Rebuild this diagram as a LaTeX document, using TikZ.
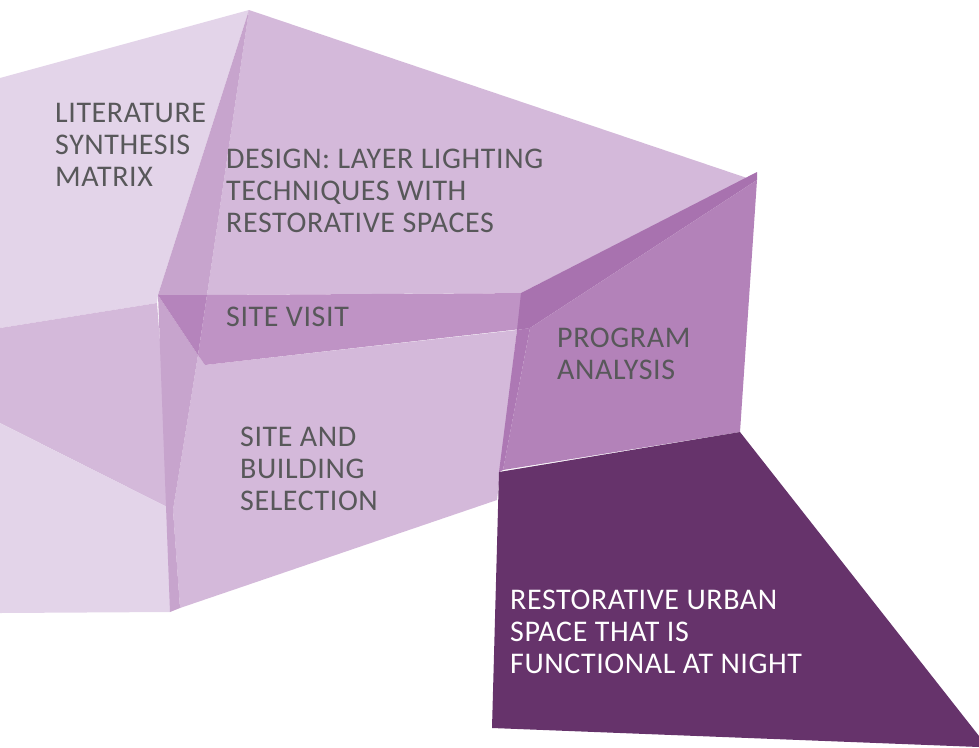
\documentclass[tikz,border=0pt]{standalone}
\usepackage{fontspec}
\setmainfont{Carlito}[LetterSpace=2.0]
\definecolor{cLight}{HTML}{E3D4E9}
\definecolor{cMed}{HTML}{D4B9DA}
\definecolor{cStrip}{HTML}{C7A4CD}
\definecolor{cBand}{HTML}{BF93C5}
\definecolor{cTri}{HTML}{B584BC}
\definecolor{cWedge}{HTML}{A872AF}
\definecolor{cProg}{HTML}{B382B9}
\definecolor{cProgStrip}{HTML}{AD78B4}
\definecolor{cDark}{HTML}{66336B}
\definecolor{cText}{HTML}{58585A}
\begin{document}
\begin{tikzpicture}[x=1pt,y=-1pt,
  label/.style={anchor=north west, align=left, inner sep=0pt, text=cText,
    font=\fontsize{30}{32}\selectfont}]
\useasboundingbox (0,0) rectangle (979,747);
% site and building selection
\fill[cMed] (198,355) -- (205,365) -- (517,330) -- (497,500) -- (180,608) -- (173,510) -- cycle;
% lightest top-left
\fill[cLight] (0,78) -- (249,10) -- (158,295) -- (157,303) -- (0,328) -- cycle;
% medium left
\fill[cMed] (0,328) -- (157,303) -- (173,510) -- (0,423) -- cycle;
% lightest bottom-left
\fill[cLight] (0,423) -- (173,510) -- (170,612) -- (0,613) -- cycle;
% design
\fill[cMed] (249,10) -- (747,178) -- (521,293) -- (207,295) -- cycle;
% upper strip
\fill[cStrip] (249,10) -- (207,295) -- (158,295) -- cycle;
% lower strip
\fill[cStrip] (158,295) -- (198,355) -- (173,510) -- (180,608) -- (170,612) -- cycle;
% band (site visit)
\fill[cBand] (207,295) -- (535,293) -- (530,328) -- (205,365) -- (198,355) -- cycle;
% darker triangle
\fill[cTri] (158,295) -- (207,295) -- (198,355) -- cycle;
% wedge
\fill[cWedge] (757,172) -- (757,180) -- (530,328) -- (517,330) -- (521,293) -- cycle;
% program analysis
\fill[cProg] (757,180) -- (530,328) -- (503,470) -- (740,432) -- cycle;
\fill[cProgStrip] (517,330) -- (530,328) -- (503,470) -- (499,472) -- cycle;
% result
\fill[cDark] (740,432) -- (979,736) -- (979,747) -- (492,728) -- (499,472) -- cycle;
% labels
\node[label] (lit) at (55,103) {LITERATURE\\SYNTHESIS\\MATRIX};
\node[label] (des) at (226,149) {DESIGN: LAYER LIGHTING\\TECHNIQUES WITH\\RESTORATIVE SPACES};
\node[label] (sv) at (226,307) {SITE VISIT};
\node[label] (pa) at (557,328) {PROGRAM\\ANALYSIS};
\node[label] (sb) at (240,427) {SITE AND\\BUILDING\\SELECTION};
\node[label, text=white] (res) at (510,590) {RESTORATIVE URBAN\\SPACE THAT IS\\FUNCTIONAL AT NIGHT};
\end{tikzpicture}
\end{document}
